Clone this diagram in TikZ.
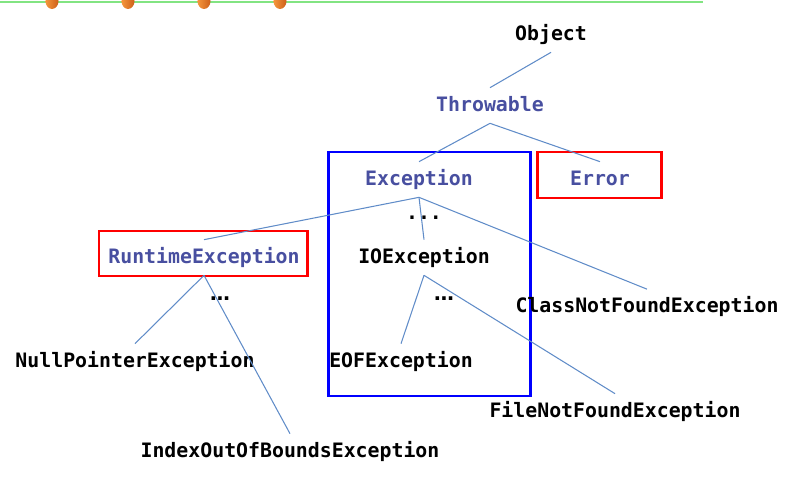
\documentclass[tikz,border=0pt]{standalone}
\usepackage{fontspec}
\setmonofont{DejaVu Sans Mono}
\newfontfamily\dotsfont{DejaVu Sans}
\definecolor{clsblue}{RGB}{72,79,160}
\definecolor{edgeblue}{RGB}{96,140,200}
\definecolor{railgreen}{RGB}{130,228,130}
\definecolor{pinlight}{RGB}{244,150,60}
\definecolor{pindark}{RGB}{205,95,25}

\begin{document}
\begin{tikzpicture}[x=0.02cm, y=-0.02cm,
    cls/.style={font=\fontsize{11.3}{13}\selectfont\ttfamily\bfseries,
        text height=8pt, text depth=1.7pt, inner xsep=0pt, inner ysep=5.1pt},
    blue cls/.style={cls, text=clsblue},
    more/.style={cls, font=\fontsize{11.3}{13}\selectfont\dotsfont\bfseries},
    edge/.style={draw=edgeblue, line width=0.6pt},
    markbox/.style={line width=1.7pt}]
    \useasboundingbox (0,0) rectangle (793,486);

    % Top rail
    \draw[railgreen, line width=1.3pt] (0,2) -- (703,2);
    \foreach \x in {52,128,204,280}
        \shade[left color=pinlight, right color=pindark] (\x,1) ellipse [x radius=6.5, y radius=8];

    % Highlight boxes
    \draw[markbox, blue] (328,152) rectangle (530,396);
    \draw[markbox, red] (537,152) rectangle (661,198);
    \draw[markbox, red] (99,231) rectangle (307,276);

    % Draw nodes
    \node[cls] (object) at (551,34.5) {Object};
    \node[blue cls] (throwable) at (490,105.5) {Throwable};
    \node[blue cls] (exception) at (419,179.5) {Exception};
    \node[blue cls] (error) at (600,179.5) {Error};
    \node[blue cls] (runtime) at (204,257.5) {RuntimeException};
    \node[cls] (ioexc) at (424,257.5) {IOException};
    \node[cls] (classnf) at (647,307) {ClassNotFoundException};
    \node[cls] (nullptr) at (135,361.5) {NullPointerException};
    \node[cls] (eofexc) at (401,361.5) {EOFException};
    \node[cls] (filenf) at (615,411.5) {FileNotFoundException};
    \node[cls] (indexoob) at (290,451.5) {IndexOutOfBoundsException};

    % Ellipses
    \node[cls] (moreexc) at (424,213.5) {...};
    \node[more] (moreruntime) at (220,295) {…};
    \node[more] (moreio) at (444,295) {…};

    % Draw connections
    \draw[edge] (object.south) -- (throwable.north);
    \draw[edge] (throwable.south) -- (exception.north);
    \draw[edge] (throwable.south) -- (error.north);
    \draw[edge] (exception.south) -- (runtime.north);
    \draw[edge] (exception.south) -- (ioexc.north);
    \draw[edge] (exception.south) -- (classnf.north);
    \draw[edge] (runtime.south) -- (nullptr.north);
    \draw[edge] (runtime.south) -- (indexoob.north);
    \draw[edge] (ioexc.south) -- (eofexc.north);
    \draw[edge] (ioexc.south) -- (filenf.north);
\end{tikzpicture}
\end{document}
